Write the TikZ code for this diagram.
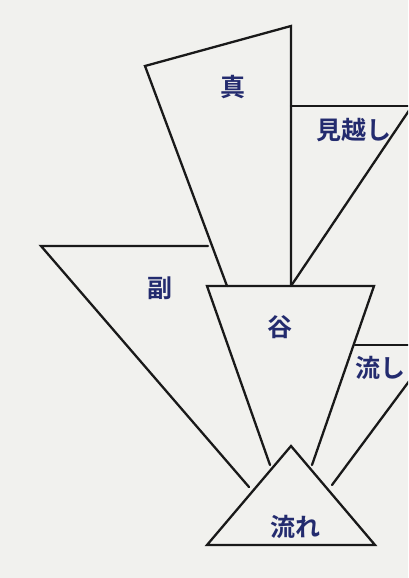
\documentclass[tikz,border=0pt]{standalone}
\usepackage{fontspec}
\newfontfamily\jpfont{Noto Sans CJK JP Bold}
\definecolor{paper}{HTML}{F1F1EE}
\definecolor{ink}{HTML}{232B6E}
\begin{document}
\begin{tikzpicture}[x=1pt,y=-1pt,
  edge/.style={draw=black!90,line width=2.3pt,line cap=round,line join=miter},
  lbl/.style={text=ink,font=\jpfont\fontsize{25}{25}\selectfont,inner sep=0pt}]
\fill[paper] (0,0) rectangle (408,578);
\useasboundingbox (0,0) rectangle (408,578);
\begin{scope}
\clip (0,0) rectangle (408,578);
% shin
\coordinate (s1) at (227,286);
\coordinate (s2) at (145,66);
\coordinate (s3) at (291,26);
\coordinate (s4) at (291,286);
\draw[edge] (s1) -- (s2) -- (s3) -- (s4);
% mikoshi
\coordinate (m1) at (291,106);
\coordinate (m2) at (410,106);
\coordinate (m3) at (410,109);
\draw[edge] (m1) -- (m2);
\draw[edge] (m3) -- (s4);
% fuku
\coordinate (f1) at (208,246);
\coordinate (f2) at (41,246);
\coordinate (f3) at (249,487);
\draw[edge] (f1) -- (f2) -- (f3);
% tani
\coordinate (t1) at (270,465);
\coordinate (t2) at (207,286);
\coordinate (t3) at (374,286);
\coordinate (t4) at (312,465);
\draw[edge] (t1) -- (t2) -- (t3) -- (t4);
% nagashi
\coordinate (n1) at (355,345);
\coordinate (n2) at (410,345);
\coordinate (n3) at (410,380);
\coordinate (n4) at (332,485);
\draw[edge] (n1) -- (n2);
\draw[edge] (n3) -- (n4);
% nagare
\coordinate (r1) at (291,446);
\coordinate (r2) at (375,545);
\coordinate (r3) at (207,545);
\draw[edge] (r1) -- (r2) -- (r3) -- cycle;
\end{scope}
\node[lbl] (shin) at (233,87) {真};
\node[lbl] (mikoshi) at (354,130) {見越し};
\node[lbl] (fuku) at (160,288) {副};
\node[lbl] (tani) at (280,327) {谷};
\node[lbl] (nagashi) at (380,368) {流し};
\node[lbl] (nagare) at (295,527) {流れ};
\end{tikzpicture}
\end{document}
